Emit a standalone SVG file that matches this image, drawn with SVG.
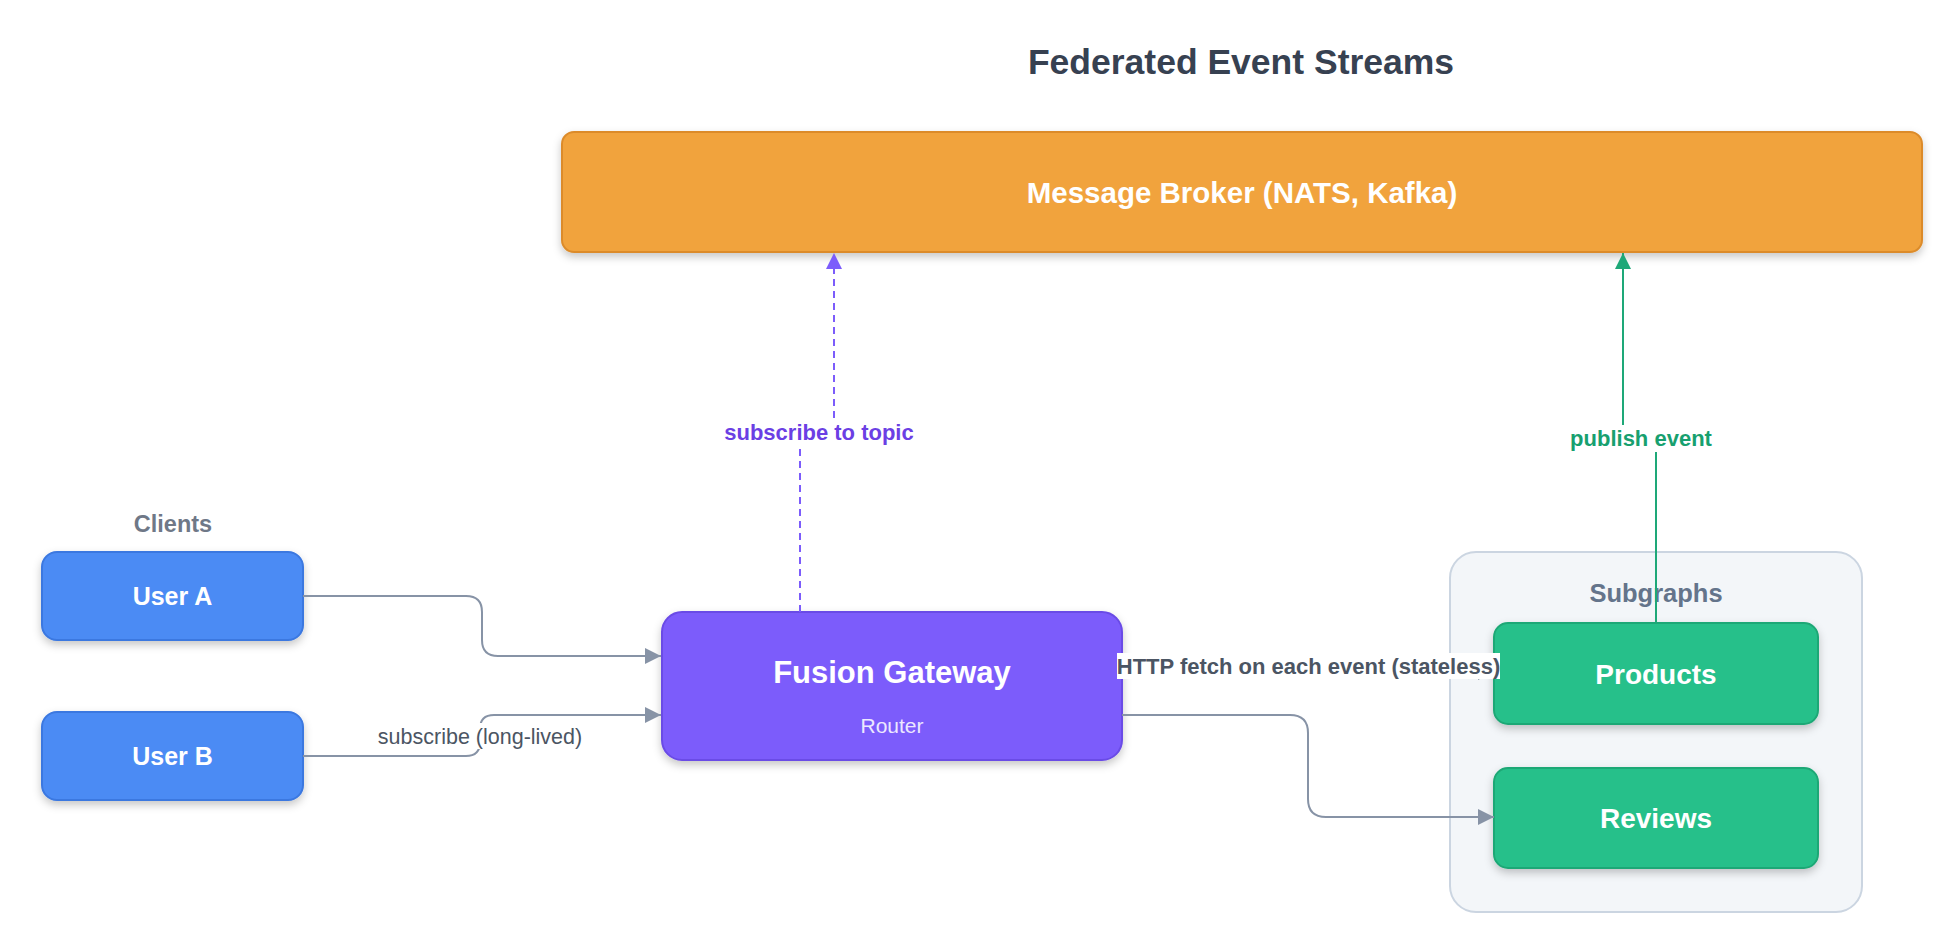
<svg xmlns="http://www.w3.org/2000/svg" width="1953" height="931" viewBox="0 0 1953 931">
<defs>
<filter id="sh" x="-10%" y="-20%" width="120%" height="150%">
<feDropShadow dx="0" dy="4" stdDeviation="4" flood-color="#000" flood-opacity="0.22"/>
</filter>
<marker id="ag" viewBox="0 0 16 16" refX="16" refY="8" markerWidth="16" markerHeight="16" markerUnits="userSpaceOnUse" orient="auto"><path d="M0,0 L16,8 L0,16 Z" fill="#8793a6"/></marker>
<marker id="ap" viewBox="0 0 16 16" refX="16" refY="8" markerWidth="16" markerHeight="16" markerUnits="userSpaceOnUse" orient="auto"><path d="M0,0 L16,8 L0,16 Z" fill="#7c5cfb"/></marker>
<marker id="ae" viewBox="0 0 16 16" refX="16" refY="8" markerWidth="16" markerHeight="16" markerUnits="userSpaceOnUse" orient="auto"><path d="M0,0 L16,8 L0,16 Z" fill="#1ea878"/></marker>
</defs>
<style>
text{font-family:"Liberation Sans",Arial,Helvetica,sans-serif;text-anchor:middle}
.b{font-weight:bold}
.nt{fill:#ffffff;font-weight:bold}
.edge{fill:none;stroke:#8793a6;stroke-width:2}
.lbl{font-size:22px}
.bg{fill:#ffffff}
</style>
<rect width="1953" height="931" fill="#ffffff"/>
<text x="1241" y="74" class="b" font-size="35.5" fill="#374151">Federated Event Streams</text>

<g id="subgraphs">
<rect x="1450" y="552" width="412" height="360" rx="26" fill="#f3f6f9" stroke="#cbd5e1" stroke-width="2"/>
<text x="1656" y="602" class="b" font-size="25.5" fill="#64748b">Subgraphs</text>
</g>
<g id="clients">
<text x="173" y="532" class="b" font-size="23.5" fill="#6f7887">Clients</text>
</g>

<g id="broker">
<rect x="562" y="132" width="1360" height="120" rx="12" fill="#f1a33d" stroke="#dc8b2a" stroke-width="2" filter="url(#sh)"/>
<text x="1242" y="203" class="nt" font-size="29.5">Message Broker (NATS, Kafka)</text>
</g>
<g id="userA">
<rect x="42" y="552" width="261" height="88" rx="15" fill="#4b8bf4" stroke="#3b78e0" stroke-width="2" filter="url(#sh)"/>
<text x="172.5" y="605" class="nt" font-size="25">User A</text>
</g>
<g id="userB">
<rect x="42" y="712" width="261" height="88" rx="15" fill="#4b8bf4" stroke="#3b78e0" stroke-width="2" filter="url(#sh)"/>
<text x="172.5" y="765" class="nt" font-size="25">User B</text>
</g>
<g id="gateway">
<rect x="662" y="612" width="460" height="148" rx="20" fill="#7c5cfb" stroke="#6a4be6" stroke-width="2" filter="url(#sh)"/>
<text x="892" y="683" class="nt" font-size="31">Fusion Gateway</text>
<text x="892" y="733" font-size="21" fill="#ece8ff">Router</text>
</g>
<g id="products">
<rect x="1494" y="623" width="324" height="101" rx="14" fill="#28c08a" stroke="#1fa876" stroke-width="2" filter="url(#sh)"/>
<text x="1656" y="683.5" class="nt" font-size="28">Products</text>
</g>
<g id="reviews">
<rect x="1494" y="768" width="324" height="100" rx="14" fill="#28c08a" stroke="#1fa876" stroke-width="2" filter="url(#sh)"/>
<text x="1656" y="828" class="nt" font-size="28">Reviews</text>
</g>

<g id="connectors">
<path class="edge" d="M303,596 H466 Q482,596 482,612 V640 Q482,656 498,656 H661" marker-end="url(#ag)"/>
<path class="edge" d="M303,756 H466 Q480,756 480,742 V729 Q480,715 494,715 H661" marker-end="url(#ag)"/>
<path class="edge" d="M1122,672 H1494" marker-end="url(#ag)"/>
<path class="edge" d="M1122,715 H1290 Q1308,715 1308,733 V799 Q1308,817 1326,817 H1494" marker-end="url(#ag)"/>
<path d="M800,612 V432 H834 V253" fill="none" stroke="#7c5cfb" stroke-width="2" stroke-dasharray="7,5" marker-end="url(#ap)"/>
<path d="M1656,623 V438 H1623 V253" fill="none" stroke="#1ea878" stroke-width="2" marker-end="url(#ae)"/>
<rect class="bg" x="376" y="723" width="208" height="26"/>
<text x="480" y="744" font-size="21.5" fill="#4b5563">subscribe (long-lived)</text>
<rect class="bg" x="720" y="418" width="198" height="31"/>
<text x="819" y="440" class="b lbl" fill="#6b3fe4">subscribe to topic</text>
<rect class="bg" x="1568" y="425" width="146" height="27"/>
<text x="1641" y="446" class="b lbl" fill="#17a06f">publish event</text>
<rect class="bg" x="1117" y="653" width="383" height="26"/>
<text x="1308.5" y="674" class="b lbl" fill="#4b5563">HTTP fetch on each event (stateless)</text>
</g>
</svg>
